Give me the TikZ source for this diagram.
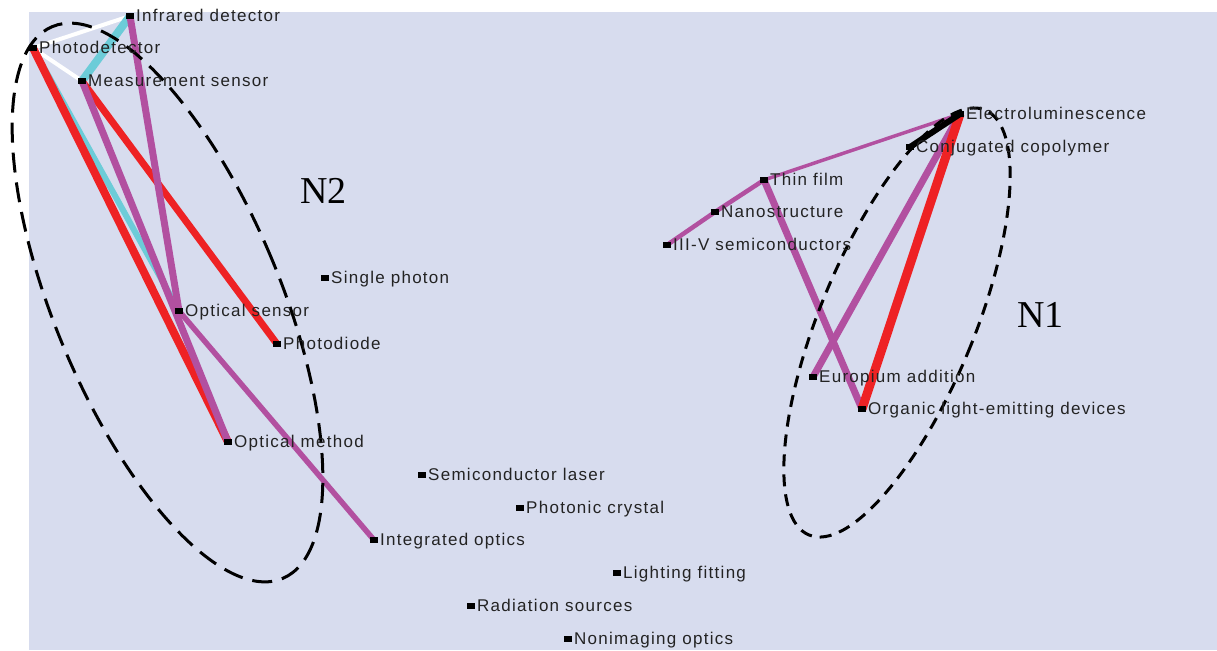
\documentclass[tikz,border=0pt]{standalone}
\usepackage{fontspec}
\setmainfont{Liberation Sans}
\newfontfamily\lblfont[LetterSpace=7.5]{Liberation Sans}
\newfontfamily\clusterfont{Liberation Serif}
\definecolor{bgc}{RGB}{215,220,238}
\definecolor{redc}{RGB}{238,34,36}
\definecolor{purc}{RGB}{178,80,160}
\definecolor{cyac}{RGB}{108,204,216}
\definecolor{txtc}{RGB}{35,35,35}
\begin{document}
\begin{tikzpicture}[x=1pt,y=-1pt,
  mk/.style={rectangle,fill=black,draw=none,minimum width=8pt,minimum height=6pt,inner sep=0pt},
  lbl/.style={anchor=base west,inner sep=0pt,xshift=6pt,yshift=-5.8pt,text=txtc,font=\lblfont\fontsize{17}{19}\selectfont},
  clab/.style={anchor=base west,inner sep=0pt,text=black,font=\clusterfont\fontsize{38}{40}\selectfont},
  wl/.style={draw=white,line width=4pt},
  cl/.style={draw=cyac,line width=#1},
  rl/.style={draw=redc,line width=#1},
  pl/.style={draw=purc,line width=#1},
  bl/.style={draw=black,line width=#1},
  grp/.style={draw=black,line width=3pt}
]
\useasboundingbox (0,0) rectangle (1217,650);
\fill[bgc] (29,12) rectangle (1217,650);

% positions
\coordinate (ir) at (130,16);
\coordinate (pd) at (33,48);
\coordinate (ms) at (82,81);
\coordinate (sp) at (325,278);
\coordinate (os) at (179,311);
\coordinate (phd) at (277,344);
\coordinate (om) at (228,442);
\coordinate (sl) at (422,475);
\coordinate (pc) at (520,508);
\coordinate (io) at (374,540);
\coordinate (lf) at (617,573);
\coordinate (rs) at (471,606);
\coordinate (no) at (568,639);
\coordinate (el) at (960,114);
\coordinate (cc) at (910,147);
\coordinate (tf) at (764,180);
\coordinate (ns) at (715,212);
\coordinate (iii) at (667,245);
\coordinate (eu) at (813,377);
\coordinate (ol) at (862,409);

% connectors
\draw[wl] (pd) -- (ir);
\draw[wl] (pd) -- (ms);
\draw[cl=8pt] (ir) -- (ms);
\draw[cl=6pt] (pd) -- (os);
\draw[rl=8pt] (pd) -- (om);
\draw[rl=7pt] (ms) -- (phd);
\draw[pl=7pt] (ir) -- (os);
\draw[pl=7pt] (ms) -- (om);
\draw[pl=5.5pt] (os) -- (io);
\draw[pl=3.5pt] (el) -- (tf);
\draw[pl=4.5pt] (tf) -- (ns);
\draw[pl=4.5pt] (ns) -- (iii);
\draw[pl=7pt] (tf) -- (ol);
\draw[pl=7pt] (el) -- (eu);
\draw[rl=9pt] (el) -- (ol);
\draw[bl=6pt] (el) -- (cc);

% cluster outlines
\draw[grp,dash pattern=on 20pt off 10pt,shift={(167.5,302.5)},rotate=22.65] (0,0) ellipse [x radius=113pt,y radius=299pt];
\draw[grp,dash pattern=on 12pt off 8pt,shift={(897,322.5)},rotate=-22.5] (0,0) ellipse [x radius=77pt,y radius=230pt];

% markers
\foreach \n in {ir,pd,ms,sp,os,phd,om,sl,pc,io,lf,rs,no,el,cc,tf,ns,iii,eu,ol}
  \node[mk] (\n-m) at (\n) {};

% labels
\node[lbl] (ir-l) at (ir) {Infrared detector};
\node[lbl] (pd-l) at (pd) {Photodetector};
\node[lbl] (ms-l) at (ms) {Measurement sensor};
\node[lbl] (sp-l) at (sp) {Single photon};
\node[lbl] (os-l) at (os) {Optical sensor};
\node[lbl] (phd-l) at (phd) {Photodiode};
\node[lbl] (om-l) at (om) {Optical method};
\node[lbl] (sl-l) at (sl) {Semiconductor laser};
\node[lbl] (pc-l) at (pc) {Photonic crystal};
\node[lbl] (io-l) at (io) {Integrated optics};
\node[lbl] (lf-l) at (lf) {Lighting fitting};
\node[lbl] (rs-l) at (rs) {Radiation sources};
\node[lbl] (no-l) at (no) {Nonimaging optics};
\node[lbl] (el-l) at (el) {Electroluminescence};
\node[lbl] (cc-l) at (cc) {Conjugated copolymer};
\node[lbl] (tf-l) at (tf) {Thin film};
\node[lbl] (ns-l) at (ns) {Nanostructure};
\node[lbl] (iii-l) at (iii) {III-V semiconductors};
\node[lbl] (eu-l) at (eu) {Europium addition};
\node[lbl] (ol-l) at (ol) {Organic light-emitting devices};

\node[clab] (n2) at (300,203) {N2};
\node[clab] (n1) at (1017,327) {N1};
\end{tikzpicture}
\end{document}
